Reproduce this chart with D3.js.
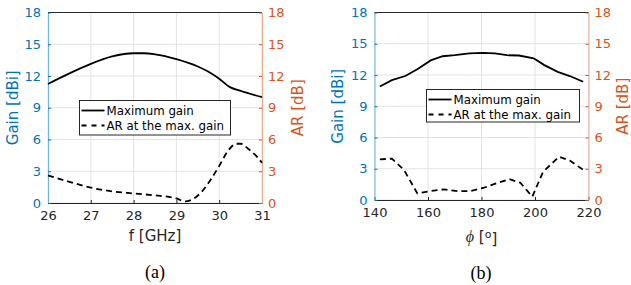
<!DOCTYPE html>
<html>
<head>
<meta charset="utf-8">
<script src="https://cdn.jsdelivr.net/npm/d3@7"></script>
<style>
  body { margin: 0; background: #fff; }
  svg { display: block; font-family: "DejaVu Sans", sans-serif; }
</style>
</head>
<body>
<div id="chart"></div>
<script>
// Panel (a): frequency sweep
const freq = [26, 26.5, 27, 27.5, 28, 28.25, 28.5, 29, 29.5, 29.75, 30, 30.25, 30.5, 31];
const gainFreq = [11.25, 12.25, 13.15, 13.85, 14.15, 14.15, 14.05, 13.6, 12.9, 12.4, 11.75, 10.95, 10.6, 10.0];
const arFreqX = [26, 26.5, 27, 27.5, 28, 28.5, 29, 29.2, 29.4, 29.6, 29.8, 30, 30.2, 30.4, 30.5, 30.7, 30.9, 31];
const arFreq = [2.6, 2.0, 1.45, 1.1, 0.9, 0.72, 0.44, 0.15, 0.4, 1.1, 2.2, 3.5, 4.9, 5.6, 5.6, 5.05, 4.3, 3.8];

// Panel (b): azimuth sweep
const phi = [142, 146.5, 151.5, 156, 161, 165.5, 170, 175.5, 180.5, 185, 189.5, 194, 199.5, 203.5, 208.5, 213, 218];
const gainPhi = [10.9, 11.5, 11.9, 12.55, 13.4, 13.8, 13.9, 14.07, 14.13, 14.07, 13.9, 13.87, 13.6, 12.95, 12.3, 11.9, 11.35];
const arPhiX = [142, 146.5, 151, 156, 161, 166, 171, 176, 181, 185.5, 190.5, 194.5, 199, 203, 209, 213, 218];
const arPhi = [3.9, 3.97, 2.9, 0.64, 0.86, 1.02, 0.86, 0.86, 1.18, 1.6, 2.0, 1.66, 0.32, 2.7, 4.16, 3.78, 2.9];

const yTicks = [0, 3, 6, 9, 12, 15, 18];
const legendLabels = ["Maximum gain", "AR at the max. gain"];

const blue = "#0072BD", orange = "#D95319";

const svg = d3.select("#chart").append("svg")
  .attr("width", 631).attr("height", 285);

function drawPanel(p) {
  const x = d3.scaleLinear().domain(p.xDomain).range([p.left, p.right]);
  const y = d3.scaleLinear().domain([0, 18]).range([p.bottom, p.top]);
  const g = svg.append("g");

  // grid
  g.selectAll(".gx").data(p.xTicks).enter().append("line")
    .attr("x1", d => x(d)).attr("x2", d => x(d))
    .attr("y1", p.top).attr("y2", p.bottom)
    .attr("stroke", "#e3e3e3").attr("stroke-width", 1);
  g.selectAll(".gy").data(yTicks).enter().append("line")
    .attr("x1", p.left).attr("x2", p.right)
    .attr("y1", d => y(d)).attr("y2", d => y(d))
    .attr("stroke", "#e3e3e3").attr("stroke-width", 1);

  // axes
  const bottomAxis = g.append("g")
    .attr("transform", `translate(0,${p.bottom})`)
    .call(d3.axisBottom(x).tickValues(p.xTicks).tickFormat(d3.format("d"))
      .tickSizeInner(-3).tickSizeOuter(0).tickPadding(8));
  bottomAxis.select(".domain").attr("stroke", "#262626");
  bottomAxis.selectAll(".tick line").attr("stroke", "#262626");
  bottomAxis.selectAll("text").attr("fill", "#262626").style("font-size", "13px")
    .style("font-family", "DejaVu Sans");

  g.append("line").attr("x1", p.left).attr("x2", p.right)
    .attr("y1", p.top).attr("y2", p.top).attr("stroke", "#262626");

  const leftAxis = g.append("g")
    .attr("transform", `translate(${p.left},0)`)
    .call(d3.axisLeft(y).tickValues(yTicks).tickSizeInner(-3).tickSizeOuter(0).tickPadding(7));
  leftAxis.select(".domain").attr("stroke", "#6cb4e4");
  leftAxis.selectAll(".tick line").attr("stroke", blue);
  leftAxis.selectAll("text").attr("fill", blue).style("font-size", "13px")
    .style("font-family", "DejaVu Sans");

  const rightAxis = g.append("g")
    .attr("transform", `translate(${p.right},0)`)
    .call(d3.axisRight(y).tickValues(yTicks).tickSizeInner(-3).tickSizeOuter(0).tickPadding(6));
  rightAxis.select(".domain").attr("stroke", "#eea98b");
  rightAxis.selectAll(".tick line").attr("stroke", orange);
  rightAxis.selectAll("text").attr("fill", orange).style("font-size", "13px")
    .style("font-family", "DejaVu Sans");

  // axis labels
  g.append("text")
    .attr("transform", `translate(${p.gainLabelX},${(p.top + p.bottom) / 2}) rotate(-90)`)
    .attr("text-anchor", "middle").attr("dy", "0.35em")
    .attr("fill", blue).style("font-size", "15px").text("Gain [dBi]");
  g.append("text")
    .attr("transform", `translate(${p.arLabelX},${(p.top + p.bottom) / 2}) rotate(-90)`)
    .attr("text-anchor", "middle").attr("dy", "0.35em")
    .attr("fill", orange).style("font-size", "15px").text("AR [dB]");
  const xl = g.append("text")
    .attr("x", (p.left + p.right) / 2).attr("y", p.xLabelY)
    .attr("text-anchor", "middle").attr("dy", "0.35em")
    .attr("fill", "#262626").style("font-size", "15px");
  if (p.isPhi) {
    xl.append("tspan").style("font-style", "italic").style("font-family", "Liberation Serif")
      .style("font-size", "16px").text("\u03D5");
    xl.append("tspan").text(" [");
    xl.append("tspan").attr("dy", "-0.35em").style("font-size", "11px").text("o");
    xl.append("tspan").attr("dy", "0.35em").text("]");
  } else {
    xl.text("f [GHz]");
  }

  // caption
  g.append("text")
    .attr("x", p.captionX).attr("y", p.captionY)
    .attr("text-anchor", "middle").attr("dy", "0.35em")
    .style("font-family", "Liberation Serif").style("font-size", "18px")
    .attr("fill", "#000").text(p.caption);

  // lines
  const gainLine = d3.line().x((d, i) => x(p.gx[i])).y(d => y(d)).curve(p.curve);
  const arLine = d3.line().x((d, i) => x(p.ax[i])).y(d => y(d)).curve(p.curve);
  g.append("path").datum(p.gain).attr("d", gainLine)
    .attr("fill", "none").attr("stroke", "#000").attr("stroke-width", 1.8);
  g.append("path").datum(p.ar).attr("d", arLine)
    .attr("fill", "none").attr("stroke", "#000").attr("stroke-width", 1.8)
    .attr("stroke-dasharray", "6,4");

  // legend
  const lg = g.append("g");
  lg.append("rect").attr("x", p.legend[0]).attr("y", p.legend[1])
    .attr("width", p.legend[2]).attr("height", p.legend[3])
    .attr("fill", "#fff").attr("stroke", "#262626").attr("stroke-width", 1);
  legendLabels.forEach((lab, i) => {
    const ly = p.legend[1] + 10 + i * 15;
    lg.append("line").attr("x1", p.legend[0] + 2).attr("x2", p.legend[0] + 25)
      .attr("y1", ly).attr("y2", ly).attr("stroke", "#000").attr("stroke-width", 1.8)
      .attr("stroke-dasharray", i === 1 ? "5,5" : null);
    lg.append("text").attr("x", p.legend[0] + 27).attr("y", ly)
      .attr("dy", "0.35em").style("font-size", "11.8px").attr("fill", "#000").text(lab);
  });
}

drawPanel({
  xDomain: [26, 31], xTicks: [26, 27, 28, 29, 30, 31],
  left: 48, right: 262, top: 12.5, bottom: 203,
  gainLabelX: 13, arLabelX: 298, xLabelY: 236,
  captionX: 155, captionY: 272, caption: "(a)",
  gx: freq, gain: gainFreq, ax: arFreqX, ar: arFreq,
  curve: d3.curveMonotoneX, legend: [79.5, 100.5, 151, 34.5], isPhi: false
});

drawPanel({
  xDomain: [140, 220], xTicks: [140, 160, 180, 200, 220],
  left: 374.5, right: 588.5, top: 12.5, bottom: 200,
  gainLabelX: 338, arLabelX: 623, xLabelY: 237,
  captionX: 481, captionY: 273, caption: "(b)",
  gx: phi, gain: gainPhi, ax: arPhiX, ar: arPhi,
  curve: d3.curveLinear, legend: [426.5, 89.5, 153, 32.5], isPhi: true
});
</script>
</body>
</html>
